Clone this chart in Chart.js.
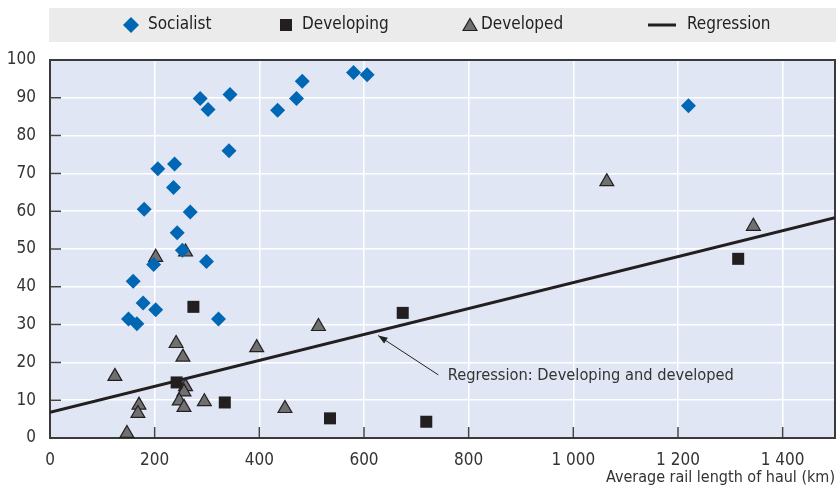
<!DOCTYPE html>
<html>
<head>
<meta charset="utf-8">
<script src="https://cdn.jsdelivr.net/npm/chart.js@4.4.1/dist/chart.umd.min.js"></script>
<style>
  html, body { margin: 0; padding: 0; background: #fff; overflow: hidden; }
  canvas { display: block; }
</style>
</head>
<body>
<canvas id="haulChart" width="836" height="486"></canvas>
<script>
const FONT = "'DejaVu Sans Condensed', 'Liberation Sans Narrow', sans-serif";

// tick labels
const xTicks = [0, 200, 400, 600, 800, 1000, 1200, 1400];
const yTicks = [0, 10, 20, 30, 40, 50, 60, 70, 80, 90, 100];

// series (x = average haul km, y = value)
const socialistKm = [580, 606, 482, 471, 435, 344, 287, 302, 342, 238, 206, 236, 180, 268, 243, 253, 198, 159, 178, 202, 299, 150, 166, 322, 1220];
const socialistVal = [96.7, 96.1, 94.4, 89.8, 86.7, 90.9, 89.8, 86.9, 76.0, 72.5, 71.2, 66.3, 60.5, 59.8, 54.3, 49.7, 45.9, 41.5, 35.7, 33.9, 46.7, 31.5, 30.2, 31.5, 87.9];

const developingKm = [274, 242, 334, 535, 674, 719, 1315];
const developingVal = [34.7, 14.7, 9.4, 5.2, 33.1, 4.3, 47.4];

const developedKm = [202, 259, 241, 254, 124, 513, 395, 259, 256, 247, 256, 295, 170, 168, 147, 449, 1064, 1344];
const developedVal = [47.8, 49.2, 25.0, 21.4, 16.3, 29.5, 23.9, 13.6, 12.2, 9.8, 8.1, 9.6, 8.7, 6.5, 1.2, 7.8, 67.8, 56.0];

const regressionKm = [0, 1500];
const regressionVal = [6.8, 58.3];

const seriesNames = ['Socialist', 'Developing', 'Developed', 'Regression'];
const noteText = 'Regression: Developing and developed';

const toPoints = (xs, ys) => xs.map((x, i) => ({ x: x, y: ys[i] }));
const fmt = v => String(v).replace(/\B(?=(\d{3})+(?!\d))/g, ' ');

const frameAndTicks = {
    id: 'frameAndTicks',
    afterLayout(chart) {
        // stretch plot to the right edge like the original
        const a = chart.chartArea;
        const x = chart.scales.x;
        const target = chart.width - 1;
        if (a.right < target) {
            a.right = target;
            a.width = a.right - a.left;
            x.right = target;
            x.width = x.right - x.left;
            x.configure();
        }
    },
    beforeDraw(chart) {
        const { ctx, chartArea: a } = chart;
        ctx.save();
        ctx.fillStyle = '#e1e6f4';
        ctx.fillRect(a.left, a.top, a.right - a.left, a.bottom - a.top);
        ctx.restore();
    },
    beforeDatasetsDraw(chart) {
        const { ctx, chartArea: a, scales } = chart;
        ctx.save();
        ctx.strokeStyle = '#444';
        ctx.lineWidth = 1.5;
        ctx.beginPath();
        yTicks.forEach(v => {
            const y = scales.y.getPixelForValue(v);
            ctx.moveTo(a.left, y);
            ctx.lineTo(a.left + 11, y);
        });
        xTicks.forEach(v => {
            const x = scales.x.getPixelForValue(v);
            ctx.moveTo(x, a.bottom);
            ctx.lineTo(x, a.bottom - 11);
        });
        ctx.stroke();
        ctx.lineWidth = 2;
        ctx.strokeStyle = '#3a3a3a';
        ctx.strokeRect(a.left, a.top, a.right - a.left, a.bottom - a.top);
        ctx.restore();
    },
    afterDatasetsDraw(chart) {
        // arrow + note
        const { ctx, scales } = chart;
        const x0 = scales.x.getPixelForValue(742), y0 = scales.y.getPixelForValue(16.7);
        const x1 = scales.x.getPixelForValue(627), y1 = scales.y.getPixelForValue(27.1);
        const ang = Math.atan2(y1 - y0, x1 - x0);
        ctx.save();
        ctx.strokeStyle = '#222';
        ctx.fillStyle = '#222';
        ctx.lineWidth = 1;
        ctx.beginPath();
        ctx.moveTo(x0, y0);
        ctx.lineTo(x1, y1);
        ctx.stroke();
        ctx.beginPath();
        ctx.moveTo(x1, y1);
        ctx.lineTo(x1 - 10 * Math.cos(ang - 0.35), y1 - 10 * Math.sin(ang - 0.35));
        ctx.lineTo(x1 - 10 * Math.cos(ang + 0.35), y1 - 10 * Math.sin(ang + 0.35));
        ctx.closePath();
        ctx.fill();
        ctx.font = '16.3px ' + FONT;
        ctx.fillStyle = '#333';
        ctx.textBaseline = 'middle';
        ctx.textAlign = 'left';
        ctx.fillText(noteText, scales.x.getPixelForValue(760), scales.y.getPixelForValue(16.4));
        ctx.restore();
    },
    afterDraw(chart) {
        // legend band
        const { ctx } = chart;
        const ds = chart.data.datasets;
        const cy = 25;
        ctx.save();
        ctx.fillStyle = '#ebebeb';
        ctx.fillRect(49, 8, 787, 34);
        ctx.font = '17px ' + FONT;
        ctx.textBaseline = 'middle';
        ctx.textAlign = 'left';
        const items = [
            { mx: 131, tx: 148, style: 'rectRot', r: 8 },
            { mx: 286, tx: 302, style: 'rect', r: 8.5 },
            { mx: 470, tx: 481, style: 'triangle', r: 8 },
            { mx: 662, tx: 687, style: 'line' }
        ];
        items.forEach((it, i) => {
            const d = ds[i];
            if (it.style === 'line') {
                ctx.strokeStyle = d.borderColor;
                ctx.lineWidth = 3;
                ctx.beginPath();
                ctx.moveTo(it.mx - 14, cy);
                ctx.lineTo(it.mx + 14, cy);
                ctx.stroke();
            } else {
                ctx.fillStyle = d.backgroundColor;
                ctx.strokeStyle = d.borderColor;
                ctx.lineWidth = d.borderWidth;
                Chart.helpers.drawPoint(ctx, { pointStyle: it.style, radius: it.r, rotation: 0, borderWidth: d.borderWidth }, it.mx, cy + (it.style === 'triangle' ? 1.5 : 0));
            }
            ctx.fillStyle = '#222';
            ctx.fillText(seriesNames[i], it.tx, cy);
        });
        ctx.restore();
    }
};

new Chart(document.getElementById('haulChart').getContext('2d'), {
    type: 'scatter',
    data: {
        datasets: [{
            label: seriesNames[0],
            data: toPoints(socialistKm, socialistVal),
            pointStyle: 'rectRot',
            pointRadius: 7.5,
            backgroundColor: '#0067b4',
            borderColor: '#0067b4',
            borderWidth: 0,
            clip: false
        }, {
            label: seriesNames[1],
            data: toPoints(developingKm, developingVal),
            pointStyle: 'rect',
            pointRadius: 8.5,
            backgroundColor: '#231f20',
            borderColor: '#231f20',
            borderWidth: 0,
            clip: false
        }, {
            label: seriesNames[2],
            data: toPoints(developedKm, developedVal),
            pointStyle: 'triangle',
            pointRadius: 8,
            backgroundColor: '#707070',
            borderColor: '#231f20',
            borderWidth: 1.2,
            clip: false
        }, {
            label: seriesNames[3],
            type: 'line',
            data: toPoints(regressionKm, regressionVal),
            showLine: true,
            pointRadius: 0,
            borderColor: '#231f20',
            borderWidth: 3,
            fill: false
        }]
    },
    options: {
        responsive: false,
        animation: false,
        layout: { padding: { top: 60, right: 0, left: 0, bottom: 0 } },
        plugins: {
            legend: { display: false },
            tooltip: { enabled: false }
        },
        scales: {
            x: {
                type: 'linear',
                min: 0,
                max: 1500,
                afterBuildTicks: s => { s.ticks = xTicks.map(v => ({ value: v })); },
                afterFit: s => { s.paddingLeft = 0; s.paddingRight = 0; s.height = 48; },
                grid: { color: '#ffffff', lineWidth: 1.5, drawTicks: false },
                border: { display: false },
                ticks: {
                    padding: 12,
                    color: '#333',
                    font: { family: FONT, size: 17 },
                    maxRotation: 0,
                    callback: v => fmt(v)
                },
                title: {
                    display: true,
                    text: 'Average rail length of haul (km)',
                    align: 'end',
                    color: '#333',
                    font: { family: FONT, size: 16 },
                    padding: { top: 0, bottom: -1 }
                }
            },
            y: {
                min: 0,
                max: 100,
                afterBuildTicks: s => { s.ticks = yTicks.map(v => ({ value: v })); },
                afterFit: s => { s.width = 50; s.paddingTop = 0; s.paddingBottom = 0; },
                grid: { color: '#ffffff', lineWidth: 1.5, drawTicks: false },
                border: { display: false },
                ticks: {
                    padding: 14,
                    color: '#333',
                    font: { family: FONT, size: 17 }
                }
            }
        }
    },
    plugins: [frameAndTicks]
});
</script>
</body>
</html>
